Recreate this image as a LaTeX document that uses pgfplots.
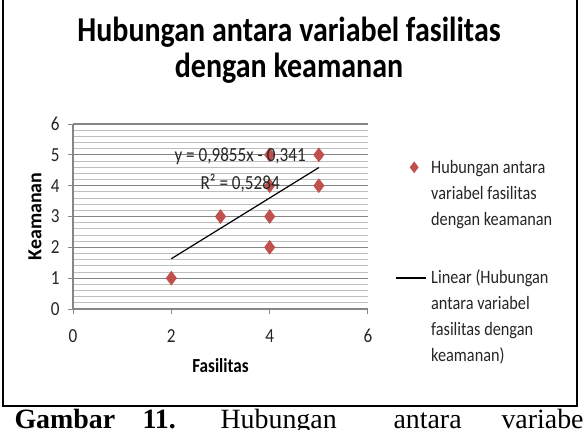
\documentclass[border=0pt]{standalone}
\usepackage{fontspec}
\usepackage{pgfplots}
\pgfplotsset{compat=1.18}
\setmainfont{Carlito}
\newfontfamily\cf[FakeStretch=0.86]{Carlito}
\newfontfamily\cfy{Carlito}
\newfontfamily\capfont{Liberation Serif}
\definecolor{mred}{RGB}{192,80,77}
\definecolor{gmaj}{RGB}{134,134,134}
\definecolor{gmin}{RGB}{190,190,190}
\begin{document}
\begin{tikzpicture}
\useasboundingbox (0,0) rectangle (584bp,430bp);
\draw[line width=2.2bp, black] (3bp,24bp) rectangle (577bp,445bp);
\node[anchor=base, font=\cf\bfseries\fontsize{35}{36}\selectfont] at (289bp,388bp) {Hubungan antara variabel fasilitas};
\node[anchor=base, font=\cf\bfseries\fontsize{35}{36}\selectfont] at (289bp,352bp) {dengan keamanan};
\begin{axis}[
  at={(73bp,121bp)}, anchor=south west, scale only axis,
  width=295bp, height=185bp,
  clip mode=individual,
  xmin=0, xmax=6, ymin=0, ymax=6,
  xtick={0,2,4,6}, ytick={0,1,2,3,4,5,6},
  minor y tick num=4, ymajorgrids, yminorgrids,
  major grid style={gmaj, line width=1.2bp},
  minor grid style={gmin, line width=0.8bp},
  axis lines*=left, axis line style={gmaj, line width=1.2bp},
  tick align=outside, major tick length=5bp, minor tick length=0pt,
  tick style={gmaj, line width=1bp},
  ticklabel style={font=\cf\fontsize{20}{22}\selectfont, text=black!85},
  xticklabel style={yshift=-12bp},
  yticklabel style={xshift=-5bp},
  /pgf/number format/assume math mode=true,
  xlabel={Fasilitas},
  xlabel style={font=\cf\bfseries\fontsize{20}{22}\selectfont, at={(axis description cs:0.5,0)}, anchor=base, yshift=-63bp},
  legend style={at={(axis description cs:1.0915,0.811)}, anchor=north west, draw=none, fill=none,
    inner sep=0pt, font=\cf\fontsize{19}{26}\selectfont, text=black!85,
    row sep=93bp, column sep=3bp, nodes={inner sep=1bp}, cells={anchor=base west}},
]
\addplot[only marks, mark=diamond*, mark size=7bp, color=mred,
  legend image code/.code={\draw[mark=diamond*, mark size=5.5bp, color=mred] plot coordinates {(18bp,6bp)}; \path (0bp,0bp) (30bp,0bp);}]
  coordinates {(2,1) (3,3) (4,5) (4,4) (4,3) (4,2) (5,5) (5,4)};
\addlegendentry{\vtop{\hbox{Hubungan antara}\hbox{variabel fasilitas}\hbox{dengan keamanan}}}
\addplot[black, line width=1.2bp,
  legend image code/.code={\draw[black, line width=2bp] (0bp,6bp) -- (30bp,6bp);}]
  coordinates {(2,1.6300) (5,4.5865)};
\addlegendentry{\vtop{\hbox{Linear (Hubungan}\hbox{antara variabel}\hbox{fasilitas dengan}\hbox{keamanan)}}}
\node[font=\cf\fontsize{20}{22}\selectfont, text=black!85] at (axis cs:3.40,4.96) {y = 0,9855x - 0,341};
\node[font=\cf\fontsize{20}{22}\selectfont, text=black!85] at (axis cs:3.40,4.09) {R² = 0,5284};
\node[font=\cfy\bfseries\fontsize{20}{22}\selectfont, rotate=90, anchor=center] at (axis description cs:-0.1288,0.5) {Keamanan};
\end{axis}
\node[anchor=base west, font=\capfont\bfseries\fontsize{28}{30}\selectfont] at (11bp,1.5bp) {Gambar};
\node[anchor=base west, font=\capfont\bfseries\fontsize{28}{30}\selectfont] at (139bp,1.5bp) {11.};
\node[anchor=base west, font=\capfont\fontsize{28}{30}\selectfont] at (217bp,1.5bp) {Hubungan};
\node[anchor=base west, font=\capfont\fontsize{28}{30}\selectfont] at (390bp,1.5bp) {antara};
\node[anchor=base west, font=\capfont\fontsize{28}{30}\selectfont] at (498bp,1.5bp) {variabel};
\end{tikzpicture}
\end{document}
